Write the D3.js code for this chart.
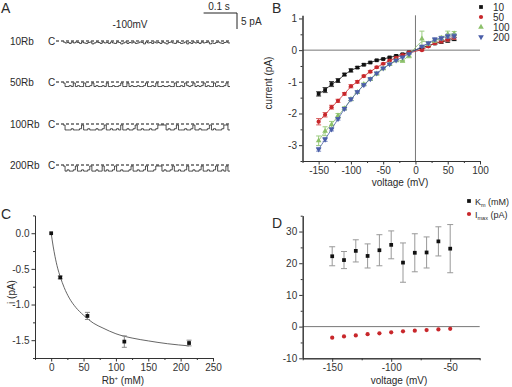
<!DOCTYPE html>
<style>
    body { margin: 0; background: #fff; }
    svg text { font-family: "Liberation Sans", Arial, sans-serif; fill: #2a2a2a; }
    .axis path, .axis line { stroke: #333; }
    .axis text { font-size: 10px; fill: #333; }
</style>
<body>
<script src="https://d3js.org/d3.v7.min.js"></script>
<script>
    // ---- panel A : single channel traces at -100 mV ----
    var traceNames = ["10Rb", "50Rb", "100Rb", "200Rb"];
    var traceAmp = [0.6, 1.1, 1.55, 1.6];   // unitary current, pA
    var traceStates = [
        "021302013023104201302130230142031203201402130213024102301320413021302104231023102",
        "044340434404430434434044344304404344344304434044344344044340343043430434404344304",
        "044434443044344434430443443404434430443444344300004344304443443044344430434443004",
        "043443044344304434404344304434443044344304443000434430443443044344304434430443404"
    ];

    // ---- panel B : I-V curves ----
    var volts = d3.range(-150, 61, 10).filter(function(v) { return v !== 0; });
    var rbLevels = ["10", "50", "100", "200"];
    var iv10  = [-1.38, -1.26, -1.07, -0.96, -0.77, -0.64, -0.55, -0.46, -0.39, -0.32, -0.28, -0.23, -0.18, -0.13, -0.07, 0.08, 0.14, 0.21, 0.26, 0.30, 0.35];
    var iv50  = [-2.26, -2.04, -1.80, -1.60, -1.38, -1.14, -1.00, -0.82, -0.68, -0.54, -0.43, -0.33, -0.24, -0.16, -0.08, 0.00, 0.12, 0.22, 0.28, 0.34, 0.40];
    var iv100 = [-2.86, -2.56, -2.35, -2.07, -1.84, -1.55, -1.33, -1.08, -0.92, -0.75, -0.58, -0.45, -0.33, -0.35, -0.18, 0.36, 0.20, 0.30, 0.38, 0.50, 0.52];
    var iv200 = [-3.13, -2.82, -2.50, -2.17, -1.85, -1.55, -1.32, -1.10, -0.91, -0.73, -0.57, -0.44, -0.32, -0.22, -0.12, 0.12, 0.22, 0.34, 0.38, 0.44, 0.45];
    var ivErr10  = [0.07, 0.08, 0.08, 0.06, 0.04, 0.05, 0.03, 0.03, 0.02, 0.02, 0.02, 0.02, 0.02, 0.02, 0.02, 0.02, 0.02, 0.03, 0.04, 0.05, 0.05];
    var ivErr50  = [0.10, 0.07, 0.06, 0.05, 0.04, 0.05, 0.04, 0.03, 0.03, 0.03, 0.02, 0.02, 0.02, 0.02, 0.02, 0.02, 0.03, 0.04, 0.05, 0.06, 0.06];
    var ivErr100 = [0.15, 0.14, 0.10, 0.07, 0.05, 0.05, 0.04, 0.04, 0.03, 0.03, 0.03, 0.03, 0.03, 0.02, 0.06, 0.24, 0.05, 0.05, 0.06, 0.10, 0.07];
    var ivErr200 = [0.06, 0.06, 0.05, 0.04, 0.04, 0.04, 0.03, 0.03, 0.03, 0.03, 0.02, 0.02, 0.02, 0.02, 0.02, 0.03, 0.04, 0.05, 0.05, 0.06, 0.06];

    // ---- panel C : current vs Rb+ ----
    var rbConc = [0, 14, 56, 113, 213];
    var rbCurrent = [0, -0.62, -1.16, -1.52, -1.54];
    var rbErr = [0, 0.02, 0.05, 0.08, 0.04];
    var fitConc = [0, 3, 6, 10, 14, 20, 28, 38, 50, 65, 80, 100, 125, 150, 180, 213];
    var fitCurrent = [0, -0.18, -0.33, -0.49, -0.61, -0.76, -0.91, -1.04, -1.15, -1.26, -1.33, -1.41, -1.47, -1.51, -1.55, -1.58];

    // ---- panel D : Km and Imax vs voltage ----
    var dVolts = [-150, -140, -130, -120, -110, -100, -90, -80, -70, -60, -50];
    var km    = [22.2, 21.0, 23.9, 22.3, 24.1, 25.8, 20.2, 23.3, 23.4, 26.9, 24.6];
    var kmErr = [3.0, 2.7, 3.5, 3.8, 4.9, 4.4, 6.2, 6.0, 4.9, 4.6, 7.6];
    var imax  = [-3.5, -3.1, -2.8, -2.4, -2.1, -1.8, -1.5, -1.3, -1.1, -0.9, -0.7];

    var svg = d3.select("body").append("svg")
        .attr("width", 512)
        .attr("height", 387);

    function panelLetter(t, x, y) {
        svg.append("text").attr("x", x).attr("y", y)
            .attr("font-size", 14).text(t);
    }
    panelLetter("A", 1, 13);
    panelLetter("B", 272, 13);
    panelLetter("C", 1, 219);
    panelLetter("D", 272, 228);

    // ================= A =================
    var tx = d3.scaleLinear().domain([0, 0.5]).range([63, 230]);
    var pxPerPA = 3.2;
    var rowY = [41, 82, 124, 165];

    traceNames.forEach(function(name, i) {
        var y0 = rowY[i];
        svg.append("text").attr("x", 10).attr("y", y0 + 3.5)
            .attr("font-size", 10).text(name);
        svg.append("text").attr("x", 48).attr("y", y0 + 3.5)
            .attr("font-size", 10).text("C");
        svg.append("line")
            .attr("x1", 56).attr("x2", 230).attr("y1", y0).attr("y2", y0)
            .attr("stroke", "#111").attr("stroke-width", 1)
            .attr("stroke-dasharray", "3,2");

        var s = traceStates[i];
        var pts = s.split("").map(function(c, k) {
            return { t: k / s.length * 0.5, lvl: +c / 4 };
        });
        pts.push({ t: 0.5, lvl: pts[pts.length - 1].lvl });
        var line = d3.line()
            .x(function(d) { return tx(d.t); })
            .y(function(d) { return y0 + 1 + d.lvl * traceAmp[i] * pxPerPA; })
            .curve(d3.curveStepAfter);
        svg.append("path").datum(pts)
            .attr("d", line)
            .attr("fill", "none")
            .attr("stroke", "#222")
            .attr("stroke-width", 0.8);
    });

    // scale bar
    var sbX = 237, sbY = 13;
    svg.append("line").attr("x1", sbX - (tx(0.1) - tx(0))).attr("x2", sbX)
        .attr("y1", sbY).attr("y2", sbY).attr("stroke", "#222");
    svg.append("line").attr("x1", sbX).attr("x2", sbX)
        .attr("y1", sbY).attr("y2", sbY + 5 * pxPerPA).attr("stroke", "#222");
    svg.append("text").attr("x", 219).attr("y", 10).attr("text-anchor", "middle")
        .attr("font-size", 10).text("0.1 s");
    svg.append("text").attr("x", 241).attr("y", 25)
        .attr("font-size", 10).text("5 pA");
    svg.append("text").attr("x", 130).attr("y", 28).attr("text-anchor", "middle")
        .attr("font-size", 10).text("-100mV");

    // helpers for axes with minor ticks
    function xAxis(scale, y, major, minor, fmt) {
        svg.append("g").attr("class", "axis")
            .attr("transform", "translate(0," + y + ")")
            .call(d3.axisBottom(scale).tickValues(minor).tickSize(2).tickFormat("").tickSizeOuter(0));
        svg.append("g").attr("class", "axis")
            .attr("transform", "translate(0," + y + ")")
            .call(d3.axisBottom(scale).tickValues(major).tickSize(3.5).tickPadding(2).tickSizeOuter(0).tickFormat(fmt))
            .selectAll("text").text(function(d) { return fmt(d).replace("−", "-"); });
    }
    function yAxis(scale, x, major, minor, fmt) {
        svg.append("g").attr("class", "axis")
            .attr("transform", "translate(" + x + ",0)")
            .call(d3.axisLeft(scale).tickValues(minor).tickSize(2).tickFormat("").tickSizeOuter(0));
        svg.append("g").attr("class", "axis")
            .attr("transform", "translate(" + x + ",0)")
            .call(d3.axisLeft(scale).tickValues(major).tickSize(3.5).tickPadding(2).tickSizeOuter(0).tickFormat(fmt))
            .selectAll("text").text(function(d) { return fmt(d).replace("−", "-"); });
    }

    function errBars(g, xs, ys, es, xScale, yScale, color, cap) {
        var eb = g.append("g").attr("stroke", color).attr("stroke-width", 1);
        xs.forEach(function(xv, i) {
            if (!es[i]) return;
            var x = xScale(xv), y1 = yScale(ys[i] - es[i]), y2 = yScale(ys[i] + es[i]);
            eb.append("line").attr("x1", x).attr("x2", x).attr("y1", y1).attr("y2", y2);
            eb.append("line").attr("x1", x - cap).attr("x2", x + cap).attr("y1", y1).attr("y2", y1);
            eb.append("line").attr("x1", x - cap).attr("x2", x + cap).attr("y1", y2).attr("y2", y2);
        });
    }

    // ================= B =================
    var xB = d3.scaleLinear().domain([-175, 100]).range([302.5, 480]);
    var yB = d3.scaleLinear().domain([-3.5, 1.1]).range([161, 15.3]);

    svg.append("line").attr("x1", xB(-175)).attr("x2", xB(100))
        .attr("y1", yB(0)).attr("y2", yB(0)).attr("stroke", "#777");
    svg.append("line").attr("x1", xB(0)).attr("x2", xB(0))
        .attr("y1", yB(1.1)).attr("y2", yB(-3.5)).attr("stroke", "#777");

    var fB = d3.format("d");
    xAxis(xB, 161, [-150, -100, -50, 0, 50, 100], [-175, -125, -75, -25, 25, 75], fB);
    yAxis(yB, 302.5, [-3, -2, -1, 0, 1], [-3.5, -2.5, -1.5, -0.5, 0.5], fB);

    var seriesB = [
        { vals: iv10,  err: ivErr10,  color: "#111",    ecolor: "#444",    sym: d3.symbolSquare,   size: 14 },
        { vals: iv50,  err: ivErr50,  color: "#c8272b", ecolor: "#d86060", sym: d3.symbolCircle,   size: 14 },
        { vals: iv100, err: ivErr100, color: "#8cc06a", ecolor: "#9ccc80", sym: d3.symbolTriangle, size: 14 },
        { vals: iv200, err: ivErr200, color: "#4a5ea8", ecolor: "#7787c0", sym: d3.symbolTriangle, size: 14, down: true }
    ];
    var gB = svg.append("g");
    seriesB.forEach(function(s) {
        errBars(gB, volts, s.vals, s.err, xB, yB, s.ecolor, 2.5);
        var pts = volts.map(function(v, i) { return [v, s.vals[i]]; });
        gB.append("path").datum(pts)
            .attr("d", d3.line().x(function(d) { return xB(d[0]); }).y(function(d) { return yB(d[1]); }).curve(d3.curveBasis))
            .attr("fill", "none").attr("stroke", s.color).attr("stroke-width", 0.8);
        gB.selectAll(null).data(pts).enter().append("path")
            .attr("d", d3.symbol().type(s.sym).size(s.size))
            .attr("transform", function(d) {
                return "translate(" + xB(d[0]) + "," + yB(d[1]) + ")" + (s.down ? " rotate(180)" : "");
            })
            .attr("fill", s.color);
    });

    // legend B
    var legB = svg.append("g");
    rbLevels.forEach(function(name, i) {
        var s = seriesB[i], y = 7 + i * 10;
        legB.append("path")
            .attr("d", d3.symbol().type(s.sym).size(14))
            .attr("transform", "translate(481," + y + ")" + (s.down ? " rotate(180)" : ""))
            .attr("fill", s.color);
        legB.append("text").attr("x", 493).attr("y", y + 3.5)
            .attr("font-size", 10).text(name);
    });

    svg.append("text").attr("x", 400).attr("y", 186).attr("text-anchor", "middle")
        .attr("font-size", 10).text("voltage (mV)");
    svg.append("text").attr("transform", "translate(272,83) rotate(-90)")
        .attr("text-anchor", "middle").attr("font-size", 10).text("current (pA)");

    // ================= C =================
    var xC = d3.scaleLinear().domain([-25, 250]).range([35, 213]);
    var yC = d3.scaleLinear().domain([-1.75, 0.25]).range([358, 215.4]);
    var fC = d3.format(".1f");
    xAxis(xC, 358, [0, 50, 100, 150, 200, 250], [-25, 25, 75, 125, 175, 225], d3.format("d"));
    yAxis(yC, 35, [-1.5, -1.0, -0.5, 0.0], [-1.75, -1.25, -0.75, -0.25, 0.25], fC);

    var gC = svg.append("g");
    gC.append("path")
        .datum(fitConc.map(function(c, i) { return [c, fitCurrent[i]]; }))
        .attr("d", d3.line().x(function(d) { return xC(d[0]); }).y(function(d) { return yC(d[1]); }).curve(d3.curveMonotoneX))
        .attr("fill", "none").attr("stroke", "#555").attr("stroke-width", 0.9);
    errBars(gC, rbConc, rbCurrent, rbErr, xC, yC, "#888", 2.5);
    gC.selectAll(null).data(rbConc).enter().append("path")
        .attr("d", d3.symbol().type(d3.symbolSquare).size(14))
        .attr("transform", function(d, i) { return "translate(" + xC(d) + "," + yC(rbCurrent[i]) + ")"; })
        .attr("fill", "#111");

    svg.append("text").attr("x", 123).attr("y", 384).attr("text-anchor", "middle")
        .attr("font-size", 10).html("Rb<tspan font-size='6' dy='-4'>+</tspan><tspan dy='4'> (mM)</tspan>");
    svg.append("text").attr("transform", "translate(15,292) rotate(-90)")
        .attr("text-anchor", "middle").attr("font-size", 10).text("i (pA)");

    // ================= D =================
    var xD = d3.scaleLinear().domain([-175, -25]).range([302.7, 479.7]);
    var yD = d3.scaleLinear().domain([-10, 35]).range([358.3, 215.7]);
    svg.append("line").attr("x1", xD(-175)).attr("x2", xD(-25))
        .attr("y1", yD(0)).attr("y2", yD(0)).attr("stroke", "#777");
    xAxis(xD, 358.3, [-150, -100, -50], [-175, -125, -75, -25], d3.format("d"));
    yAxis(yD, 302.7, [-10, 0, 10, 20, 30], [-5, 5, 15, 25, 35], d3.format("d"));

    var gD = svg.append("g");
    errBars(gD, dVolts, km, kmErr, xD, yD, "#999", 3);
    gD.selectAll(null).data(dVolts).enter().append("path")
        .attr("d", d3.symbol().type(d3.symbolSquare).size(14))
        .attr("transform", function(d, i) { return "translate(" + xD(d) + "," + yD(km[i]) + ")"; })
        .attr("fill", "#111");
    gD.selectAll(null).data(dVolts).enter().append("path")
        .attr("d", d3.symbol().type(d3.symbolCircle).size(14))
        .attr("transform", function(d, i) { return "translate(" + xD(d) + "," + yD(imax[i]) + ")"; })
        .attr("fill", "#c8272b");

    var legD = svg.append("g");
    legD.append("path").attr("d", d3.symbol().type(d3.symbolSquare).size(14))
        .attr("transform", "translate(469,201)").attr("fill", "#111");
    legD.append("text").attr("x", 475).attr("y", 204.5).attr("font-size", 9)
        .html("K<tspan font-size='5.5' dy='2'>m</tspan><tspan dy='-2'> (mM)</tspan>");
    legD.append("path").attr("d", d3.symbol().type(d3.symbolCircle).size(14))
        .attr("transform", "translate(469,214)").attr("fill", "#c8272b");
    legD.append("text").attr("x", 475).attr("y", 217.5).attr("font-size", 9)
        .html("I<tspan font-size='5.5' dy='2'>max</tspan><tspan dy='-2'> (pA)</tspan>");

    svg.append("text").attr("x", 399).attr("y", 384).attr("text-anchor", "middle")
        .attr("font-size", 10).text("voltage (mV)");
</script>
</body>
